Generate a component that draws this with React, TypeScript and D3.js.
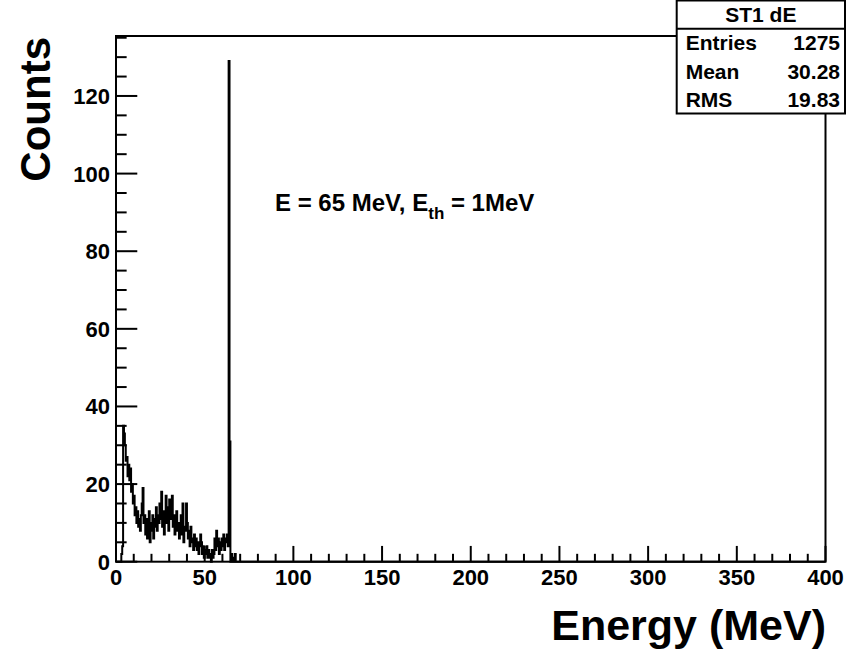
import React from "react";
import * as d3 from "d3";

// ---- data ----
const binWidth = 0.5; // MeV
const binStart = 3.0; // MeV, lower edge of first listed bin
const counts = [
  2, 4, 35, 33, 30, 26, 27, 22, 25, 21,
  24, 18, 20, 15, 17, 12, 14, 10, 13, 9,
  11, 8, 12, 15, 19, 10, 12, 7, 11, 6,
  9, 13, 5, 10, 8, 12, 6, 11, 9, 14,
  8, 12, 10, 15, 11, 18, 9, 13, 7, 12,
  17, 10, 14, 8, 16, 11, 13, 17, 9, 12,
  7, 11, 13, 8, 10, 6, 9, 12, 7, 15,
  5, 9, 8, 15, 10, 6, 8, 4, 9, 5,
  6, 3, 7, 4, 6, 3, 5, 2, 4, 7,
  5, 2, 4, 1, 3, 2, 4, 1, 3, 2,
  1, 0, 3, 1, 2, 6, 3, 8, 4, 6,
  2, 5, 3, 6, 4, 7, 3, 6, 5, 7,
  4, 129, 31, 0, 2, 0, 1, 0, 2, 0,
];
const xDomain = [0, 400];
const yDomain = [0, 135.45];
const xMajorTicks = [0, 50, 100, 150, 200, 250, 300, 350, 400];
const yMajorTicks = [0, 20, 40, 60, 80, 100, 120];
const statsTitle = "ST1 dE";
const statsNames = ["Entries", "Mean", "RMS"];
const statsValues = ["1275", "30.28", "19.83"];
const xTitle = "Energy (MeV)";
const yTitle = "Counts";

const FONT = "'Liberation Sans', Arial, Helvetica, sans-serif";

export default function App() {
  const W = 848, H = 649;
  const left = 116, right = 825.5, top = 36, bottom = 561.7;
  const x = d3.scaleLinear().domain(xDomain).range([left, right]);
  const y = d3.scaleLinear().domain(yDomain).range([bottom, top]);

  // histogram outline points
  const pts: [number, number][] = [];
  pts.push([xDomain[0], 0]);
  counts.forEach((c, i) => {
    const e = binStart + i * binWidth;
    pts.push([e, c]);
  });
  pts.push([binStart + counts.length * binWidth, 0]);
  pts.push([xDomain[1], 0]);
  const line = d3
    .line<[number, number]>()
    .x((d) => x(d[0]))
    .y((d) => y(d[1]))
    .curve(d3.curveStepAfter);

  const xMinor = d3.range(xDomain[0], xDomain[1] + 0.001, 10);
  const yMinor = d3.range(0, yDomain[1], 5);
  const xTickLen = 0.03 * (bottom - top);
  const yTickLen = 0.03 * (right - left);

  const sb = { x0: 676.7, x1: 845, y0: 0.5, y1: 113.5 };
  const rowH = (sb.y1 - sb.y0) / 4;
  const sep = sb.y0 + rowH;

  return (
    <svg
      width={W}
      height={H}
      style={{ position: "absolute", left: 0, top: 0, background: "#fff" }}
      fontFamily={FONT}
      fontWeight="bold"
    >
      <rect x={0} y={0} width={W} height={H} fill="#fff" />
      {/* histogram */}
      <path d={line(pts) || ""} fill="none" stroke="#000" strokeWidth={2} />
      {/* frame */}
      <rect x={left} y={top} width={right - left} height={bottom - top} fill="none" stroke="#000" strokeWidth={2} />
      {/* x ticks */}
      {xMinor.map((v) => {
        const major = v % 50 === 0;
        return (
          <line key={"xt" + v} x1={x(v)} x2={x(v)} y1={bottom} y2={bottom - (major ? xTickLen : xTickLen / 2)} stroke="#000" strokeWidth={2} />
        );
      })}
      {yMinor.map((v) => {
        const major = v % 20 === 0;
        return (
          <line key={"yt" + v} x1={left} x2={left + (major ? yTickLen : yTickLen / 2)} y1={y(v)} y2={y(v)} stroke="#000" strokeWidth={2} />
        );
      })}
      {/* tick labels */}
      {xMajorTicks.map((v) => (
        <text key={"xl" + v} x={x(v)} y={585} textAnchor="middle" fontSize={22}>
          {v}
        </text>
      ))}
      {yMajorTicks.map((v) => (
        <text key={"yl" + v} x={110} y={y(v) + 8} textAnchor="end" fontSize={22}>
          {v}
        </text>
      ))}
      {/* axis titles */}
      <text x={826} y={640} textAnchor="end" fontSize={43}>
        {xTitle}
      </text>
      <text transform={`translate(50,37) rotate(-90)`} textAnchor="end" fontSize={42}>
        {yTitle}
      </text>
      {/* annotation */}
      <text x={275} y={210.7} fontSize={24}>
        E = 65 MeV, E
        <tspan fontSize={17} dy={8}>th</tspan>
        <tspan dy={-8}> = 1MeV</tspan>
      </text>
      {/* stats box */}
      <rect x={sb.x0} y={sb.y0} width={sb.x1 - sb.x0} height={sb.y1 - sb.y0} fill="#fff" stroke="#000" strokeWidth={2} />
      <line x1={sb.x0} x2={sb.x1} y1={sep} y2={sep} stroke="#000" strokeWidth={2} />
      <text x={(sb.x0 + sb.x1) / 2} y={sb.y0 + rowH / 2 + 7.5} textAnchor="middle" fontSize={21}>
        {statsTitle}
      </text>
      {statsNames.map((n, i) => (
        <g key={n}>
          <text x={sb.x0 + 9} y={sep + rowH * (i + 0.5) + 7.5} fontSize={21}>
            {n}
          </text>
          <text x={sb.x1 - 5} y={sep + rowH * (i + 0.5) + 7.5} textAnchor="end" fontSize={21}>
            {statsValues[i]}
          </text>
        </g>
      ))}
    </svg>
  );
}
